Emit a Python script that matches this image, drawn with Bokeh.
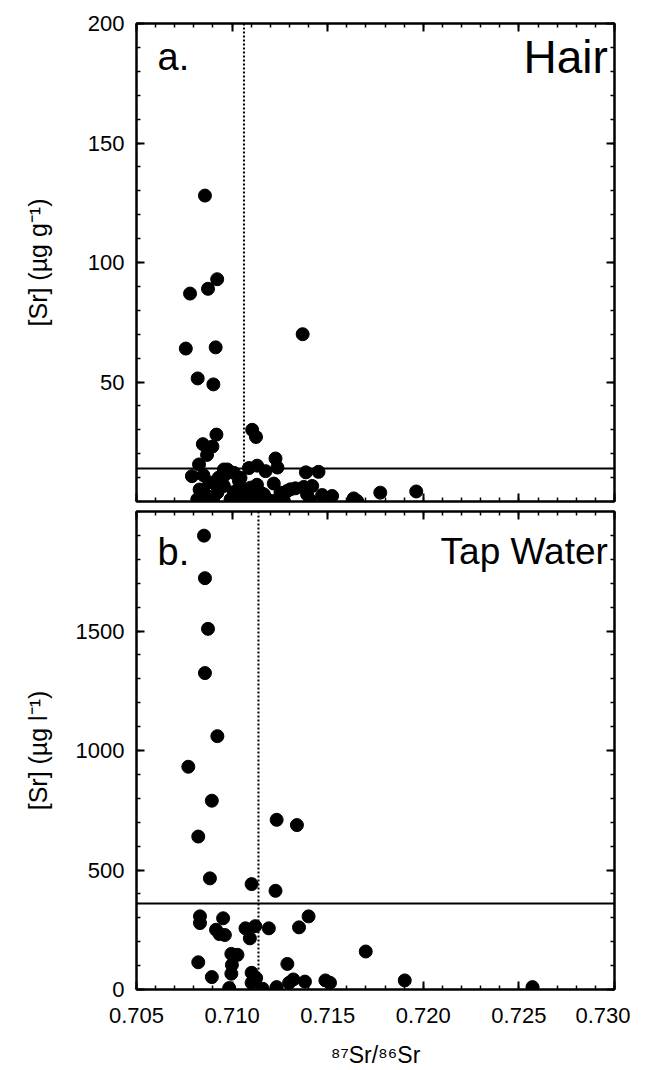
from bokeh.plotting import figure
from bokeh.layouts import column
from bokeh.models import (Span, Label, LinearAxis, FixedTicker, Range1d, PrintfTickFormatter,
                          CustomJSTickFormatter)
from bokeh.embed import file_html
from bokeh.resources import INLINE

# ---------------- data ----------------
hair_ratio = [0.70858, 0.70780, 0.70874, 0.70922, 0.70758, 0.70914, 0.70820, 0.70902, 0.71369,
              0.71105, 0.71125, 0.70918, 0.70847, 0.70897, 0.70869, 0.70827, 0.70790, 0.71227, 0.71237,
              0.71386, 0.71452, 0.71131, 0.71088, 0.70975, 0.71009, 0.71044, 0.71175, 0.70905, 0.70957,
              0.70923, 0.70818, 0.70879, 0.70992, 0.71044, 0.71096, 0.71166, 0.71218, 0.71123, 0.71288,
              0.71331, 0.71375, 0.71419, 0.71392, 0.71410, 0.71471, 0.71523, 0.71636, 0.71654, 0.71775,
              0.71963, 0.71253, 0.71270, 0.71210, 0.71305,
              0.70850, 0.70880, 0.70830, 0.70860, 0.70900, 0.70930, 0.70960, 0.71010, 0.71070, 0.71130,
              0.71150, 0.71180, 0.71036, 0.71097, 0.71149, 0.71253, 0.70957]
hair_sr = [128, 87, 89, 93, 64, 64.5, 51.5, 49, 70,
           30, 27, 28, 24, 23, 19.5, 15.5, 10.6, 18, 14.2,
           12.2, 12.4, 15, 14, 13.4, 12, 9.9, 12.7, 7.8, 6.5,
           3.7, 0.9, 0.5, 0.9, 1.6, 1.6, 3, 7.5, 4.4, 4.4,
           5.5, 6.1, 6.5, 3, 0.5, 2.7, 2.3, 1.3, 0.2, 3.7,
           4.2, 1.6, 0.2, 0.2, 5.1,
           11, 8, 5, 3, 1.0, 10, 11, 4, 5, 7,
           0.5, 1.2, 8.6, 5.8, 3.7, 3.7, 13.4]

water_ratio = [0.70853, 0.70858, 0.70874, 0.70858, 0.70923, 0.70771, 0.70894, 0.70823, 0.71233, 0.71339,
               0.70884, 0.71102, 0.71227, 0.70832, 0.70832, 0.70953, 0.71400, 0.70916, 0.70962, 0.70934,
               0.71070, 0.71121, 0.71192, 0.71350, 0.71093, 0.70996, 0.71028, 0.70999, 0.70823, 0.71289,
               0.71699, 0.70996, 0.70894, 0.71102, 0.71126, 0.71102, 0.70985, 0.71160, 0.71233, 0.71298,
               0.71320, 0.71381, 0.71488, 0.71512, 0.71903, 0.72571]
water_sr = [1899, 1721, 1509, 1324, 1060, 932, 790, 640, 710, 688,
            465, 441, 413, 306, 278, 298, 306, 250, 228, 232,
            256, 265, 256, 260, 214, 149, 145, 103, 114, 107,
            159, 66, 52, 70, 48, 28, 6, 3, 10, 28,
            42, 33, 38, 28, 38, 10]

hair_ref_sr = 13.8
hair_ref_ratio = 0.71062
water_ref_sr = 360
water_ref_ratio = 0.71138

x_major = [0.705, 0.710, 0.715, 0.720, 0.725, 0.730]
x_minor = [round(0.705 + 0.001 * i, 3) for i in range(26)]
hair_major = [50, 100, 150, 200]
hair_minor = list(range(0, 201, 10))
water_major = [0, 500, 1000, 1500]
water_minor = list(range(0, 2001, 100))

FONT = "Liberation Sans"


def style(ax):
    ax.major_tick_in = 8
    ax.major_tick_out = 0
    ax.minor_tick_in = 4
    ax.minor_tick_out = 0
    ax.axis_line_width = 2
    ax.major_tick_line_width = 2
    ax.minor_tick_line_width = 1.5
    ax.major_label_text_font = FONT
    ax.major_label_text_font_size = "22px"
    ax.major_label_text_color = "black"
    ax.axis_label_text_font = FONT
    ax.axis_label_text_font_size = "23px"
    ax.axis_label_text_font_style = "normal"
    ax.axis_label_text_color = "black"
    ax.major_label_standoff = 12


def blank_axis(ticker):
    ax = LinearAxis(ticker=ticker, formatter=CustomJSTickFormatter(code="return ''"))
    style(ax)
    ax.major_label_standoff = 0
    return ax


def make_panel(xs, ys, y_end, ymaj, ymin, ylabel, ref_sr, ref_ratio, tag, name, name_size,
               tag_frac, top_border, bottom_border, show_x, ylabel_standoff):
    p = figure(frame_width=478, frame_height=478,
               x_range=Range1d(0.705, 0.730), y_range=Range1d(0, y_end),
               output_backend="svg", toolbar_location=None,
               x_axis_location=None, y_axis_location=None,
               min_border_left=136, min_border_right=16,
               min_border_top=top_border, min_border_bottom=bottom_border)
    p.xgrid.visible = False
    p.ygrid.visible = False
    p.outline_line_color = "black"
    p.outline_line_width = 2
    p.background_fill_color = "white"
    p.border_fill_color = "white"

    xt = FixedTicker(ticks=x_major, minor_ticks=x_minor)
    yt = FixedTicker(ticks=ymaj, minor_ticks=ymin)

    left = LinearAxis(ticker=yt, axis_label=ylabel)
    style(left)
    left.axis_label_text_font_size = "25px"
    left.axis_label_standoff = ylabel_standoff
    p.add_layout(left, "left")

    p.add_layout(blank_axis(yt), "right")
    p.add_layout(blank_axis(xt), "above")

    if show_x:
        below = LinearAxis(ticker=xt, formatter=PrintfTickFormatter(format="%.3f"))
        style(below)
        below.major_label_standoff = 18
        below.axis_label = "⁸⁷Sr/⁸⁶Sr"
        below.axis_label_standoff = 16
        p.add_layout(below, "below")
    else:
        p.add_layout(blank_axis(xt), "below")

    p.add_layout(Span(location=ref_ratio, dimension="height", line_color="black",
                      line_width=2, line_dash="2 2"))
    p.add_layout(Span(location=ref_sr, dimension="width", line_color="black", line_width=2))

    p.scatter(xs, ys, size=13, marker="circle", fill_color="black", line_color="black")

    p.add_layout(Label(x=0.7061, y=y_end * tag_frac, text=tag, text_font=FONT,
                       text_font_size="38px", text_color="black",
                       text_align="left", text_baseline="alphabetic"))
    p.add_layout(Label(x=0.72965, y=y_end * tag_frac, text=name, text_font=FONT,
                       text_font_size=name_size, text_color="black",
                       text_align="right", text_baseline="alphabetic"))
    return p


p1 = make_panel(hair_ratio, hair_sr, 200, hair_major, hair_minor,
                "[Sr] (µg g⁻¹)", hair_ref_sr, hair_ref_ratio, "a.", "Hair", "46px", 0.929,
                23, 5, False, 33)
p2 = make_panel(water_ratio, water_sr, 2000, water_major, water_minor,
                "[Sr] (µg l⁻¹)", water_ref_sr, water_ref_ratio, "b.", "Tap Water", "37px", 0.916,
                5, 60, True, 21)

layout = column(p1, p2, spacing=0)
open("out.html", "w").write(file_html(layout, INLINE))
